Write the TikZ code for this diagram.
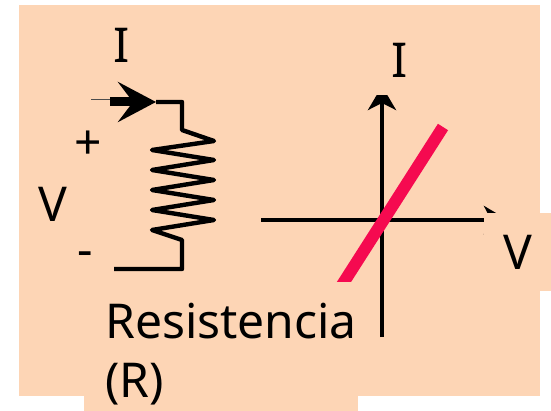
\documentclass[tikz,border=0pt]{standalone}
\usepackage{fontspec}
\setmainfont{Noto Sans}
\usetikzlibrary{arrows.meta}
\definecolor{fondo}{HTML}{FDD5B5}
\definecolor{recta}{HTML}{F50A50}
\tikzset{
  wire/.style={line width=4.4pt,line join=round},
  axis/.style={line width=4pt,-{Stealth[length=24pt,width=28pt,inset=7pt]}},
  label/.style={font=\fontsize{48}{59}\selectfont,inner sep=0pt},
  patch/.style={fill=fondo,inner sep=0pt},
}
\begin{document}
\begin{tikzpicture}[x=1pt,y=-1pt]
      \useasboundingbox (0,0) rectangle (551,411);
      \fill[fondo] (19,5) rectangle (540,396);
      \draw
        (91,100) coordinate (in0)
        (110,100) coordinate (in1)
        (110,102) coordinate (in2)
        (156,102) coordinate (tip)
        (182,102) coordinate (top)
        (182,130) coordinate (r0)
        (214,141) coordinate (r1)
        (152,150) coordinate (r2)
        (214,160) coordinate (r3)
        (152,170) coordinate (r4)
        (214,180) coordinate (r5)
        (152,190) coordinate (r6)
        (214,200) coordinate (r7)
        (152,210) coordinate (r8)
        (214,220) coordinate (r9)
        (152,230) coordinate (r10)
        (182,240) coordinate (r11)
        (182,269) coordinate (bot)
        (114,269) coordinate (out)
        (382,337) coordinate (ybot)
        (382,86) coordinate (ytop)
        (261,220) coordinate (xbot)
        (508,220) coordinate (xtop)
        (443,127) coordinate (lineA)
        (335,296) coordinate (lineB);
      \begin{scope}[-]
        \draw[line width=1pt,black!70] (in0) to (in1);
        \draw[line width=9pt,-{Stealth[length=38pt,width=40pt,inset=15pt]}] (in2) to (tip);
        \draw[wire] (tip) -- (top) -- (r0) -- (r1) -- (r2) -- (r3) -- (r4) -- (r5) -- (r6)
          -- (r7) -- (r8) -- (r9) -- (r10) -- (r11) -- (bot) -- (out);
        \draw[axis] (ybot) to (ytop);
        \draw[axis] (xbot) to (xtop);
        \draw[line width=12pt,recta] (lineB) to (lineA);
      \end{scope}
      \draw
        (122,45) node[label] (ilabel){I}
        (88,145) node[label] (plus){+}
        (85,259) node[label] (minus){-}
        (53,204) node[label] (vlabel){V};
      \node[label,patch,minimum width=60pt,minimum height=65pt] (icurve) at (400,62.5) {\raisebox{5pt}{I}};
      \node[label,patch,minimum width=68pt,minimum height=78pt] (vcurve) at (518,252) {\raisebox{-2pt}{V}};
      \node[label,patch,anchor=north west,minimum width=274pt,minimum height=129pt,align=left,
        text width=253pt] (name) at (84,282) {\hspace*{10.5pt}\rule{0pt}{51pt}Resistencia\\\hspace*{10.5pt}(R)};
    \end{tikzpicture}
\end{document}
